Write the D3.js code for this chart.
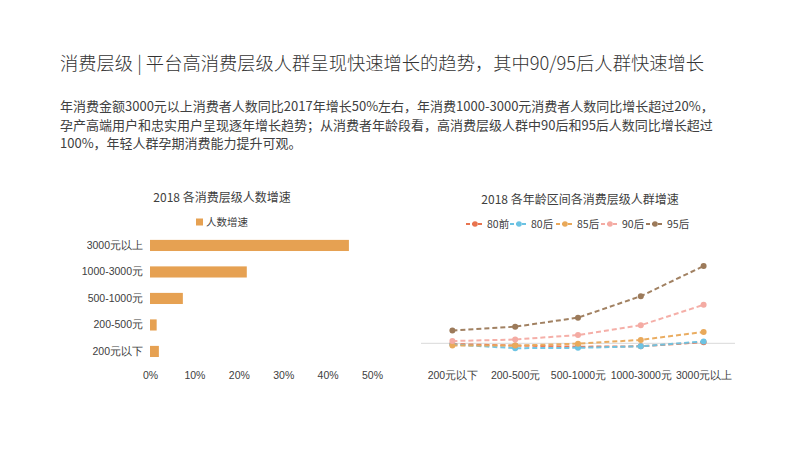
<!DOCTYPE html>
<html><head><meta charset="utf-8">
<script src="https://cdn.jsdelivr.net/npm/d3@7"></script>
<style>
html,body{margin:0;padding:0;background:#fff;}
svg{display:block;font-family:"Noto Sans CJK SC","Noto Sans",sans-serif;}
</style></head>
<body><svg id="c" width="800" height="450"></svg>
<script>
const titleText = "消费层级 | 平台高消费层级人群呈现快速增长的趋势，其中90/95后人群快速增长";
const paraLines = [
  "年消费金额3000元以上消费者人数同比2017年增长50%左右，年消费1000-3000元消费者人数同比增长超过20%，",
  "孕产高端用户和忠实用户呈现逐年增长趋势；从消费者年龄段看，高消费层级人群中90后和95后人数同比增长超过",
  "100%，年轻人群孕期消费能力提升可观。"
];

// Bar chart
const barTitle = "2018 各消费层级人数增速";
const barSeriesName = "人数增速";
const barCategories = ["3000元以上", "1000-3000元", "500-1000元", "200-500元", "200元以下"];
const barValues = [0.448, 0.218, 0.074, 0.015, 0.020];
const barTicks = [0, 0.1, 0.2, 0.3, 0.4, 0.5];

// Line chart
const lineTitle = "2018 各年龄区间各消费层级人群增速";
const lineCategories = ["200元以下", "200-500元", "500-1000元", "1000-3000元", "3000元以上"];
const lineSeriesNames = ["80前", "80后", "85后", "90后", "95后"];
const s80qian = [-2, -6, -9, -8, 3];
const s80hou = [-3, -13, -12, -8, 5];
const s85hou = [-6, -6, -1, 9, 30];
const s90hou = [6, 10, 22, 48, 102];
const s95hou = [34, 44, 68, 125, 205];
const lineSeries = [s80qian, s80hou, s85hou, s90hou, s95hou];
const lineColors = ["#e8744f", "#6cc3e3", "#e9a95a", "#f4aba3", "#9c7a5a"];
const barColor = "#e6a152";

const svg = d3.select("#c");

// Header
svg.append("text").attr("x", 60).attr("y", 70).attr("font-size", 18.3).attr("font-weight", 300).attr("fill", "#333")
  .text(titleText);
svg.selectAll("text.para").data(paraLines).join("text").attr("class","para")
  .attr("x", 60).attr("y", (d,i)=>111 + i*18.5).attr("font-size", 13).attr("fill", "#404040")
  .text(d=>d);

// ---------- Bar chart ----------
const bx = d3.scaleLinear().domain([0, 0.5]).range([150, 372]);
const by = d3.scaleBand().domain(barCategories).range([232.2, 364.7]).paddingInner(0.58).paddingOuter(0.29);
const bg = svg.append("g");
bg.append("text").attr("x", 222).attr("y", 202).attr("text-anchor","middle").attr("font-size",12).attr("fill","#404040").text(barTitle);
bg.append("rect").attr("x", 196).attr("y", 218.5).attr("width", 7).attr("height", 7).attr("fill", barColor);
bg.append("text").attr("x", 206).attr("y", 226).attr("font-size", 10.5).attr("fill","#404040").text(barSeriesName);
bg.selectAll("rect.bar").data(barValues).join("rect").attr("class","bar")
  .attr("x", bx(0)).attr("y", (d,i)=>by(barCategories[i]))
  .attr("width", d=>bx(d)-bx(0)).attr("height", by.bandwidth()).attr("fill", barColor);
const byAxis = bg.append("g").attr("transform", `translate(${bx(0)},0)`)
  .call(d3.axisLeft(by).tickSize(0).tickPadding(7));
byAxis.select(".domain").remove();
byAxis.selectAll("text").attr("font-size", 10.5).attr("fill","#404040").attr("font-family",null);
const bxAxis = bg.append("g").attr("transform", `translate(0,372)`)
  .call(d3.axisBottom(bx).tickValues(barTicks).tickFormat(d3.format(".0%")).tickSize(0).tickPadding(0));
bxAxis.select(".domain").remove();
bxAxis.selectAll("text").attr("font-size", 10.5).attr("fill","#404040").attr("font-family",null);

// ---------- Line chart ----------
const lx = d3.scalePoint().domain(lineCategories).range([421, 735]).padding(0.5);
const ly = d3.scaleLinear().domain([-50, 300]).range([362.15, 230.2]);
const lg = svg.append("g");
lg.append("text").attr("x", 580).attr("y", 204).attr("text-anchor","middle").attr("font-size",12).attr("fill","#404040").text(lineTitle);
// zero axis
lg.append("line").attr("x1", 421).attr("x2", 735).attr("y1", ly(0)).attr("y2", ly(0)).attr("stroke", "#d9d9d9").attr("stroke-width", 1);
const lxAxis = lg.append("g").attr("transform", `translate(0,372)`)
  .call(d3.axisBottom(lx).tickSize(0).tickPadding(0));
lxAxis.select(".domain").remove();
lxAxis.selectAll("text").attr("font-size", 10.5).attr("fill","#404040").attr("font-family",null);

const line = d3.line().x((d,i)=>lx(lineCategories[i])).y(d=>ly(d));
lineSeries.forEach((s, k) => {
  const g = lg.append("g");
  g.append("path").datum(s).attr("d", line).attr("fill","none").attr("stroke", lineColors[k])
    .attr("stroke-width", 2).attr("stroke-dasharray", "5,3").attr("opacity", 0.95);
  g.selectAll("circle").data(s).join("circle").attr("cx",(d,i)=>lx(lineCategories[i])).attr("cy", d=>ly(d))
    .attr("r", 3).attr("fill", lineColors[k]);
});

// legend
const legX = [466, 510, 556, 601, 646];
const legY = 224;
lineSeriesNames.forEach((n, k) => {
  const x0 = legX[k];
  lg.append("line").attr("x1", x0).attr("x2", x0+18).attr("y1", legY).attr("y2", legY)
    .attr("stroke", lineColors[k]).attr("stroke-width", 2).attr("stroke-dasharray", "4,2");
  lg.append("circle").attr("cx", x0+9).attr("cy", legY).attr("r", 2.8).attr("fill", lineColors[k]);
  lg.append("text").attr("x", x0+21).attr("y", legY+4).attr("font-size", 10.5).attr("fill","#404040").text(n);
});
</script></body></html>
